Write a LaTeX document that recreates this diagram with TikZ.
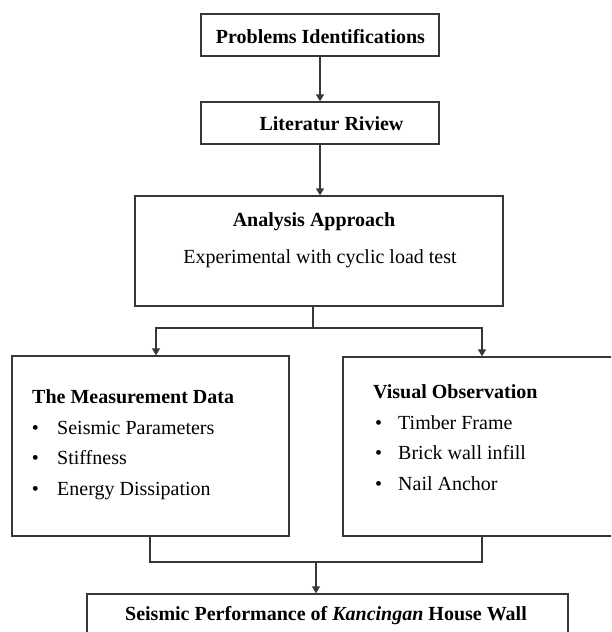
\documentclass[tikz,border=0pt]{standalone}
\usepackage{fontspec}
\setmainfont{Liberation Serif}
\usetikzlibrary{arrows.meta}
\definecolor{linec}{RGB}{55,55,55}
\begin{document}
\begin{tikzpicture}[x=1pt,y=-1pt,
  box/.style={draw=linec, line width=1.4pt, inner sep=0pt},
  ln/.style={draw=linec, line width=1.4pt},
  arr/.style={ln, -{Triangle[length=7pt,width=8pt]}},
  txt/.style={inner sep=0pt, font={\fontsize{20}{24}\selectfont}},
  btxt/.style={inner sep=0pt, font={\fontsize{20}{24}\selectfont\bfseries}}]
\useasboundingbox (0,0) rectangle (611,632);
\clip (0,0) rectangle (611,632);
\fill[white] (0,0) rectangle (611,632);

% boxes
\node[box, minimum width=238pt, minimum height=42pt] (p1) at (320,35) {};
\node[box, minimum width=238pt, minimum height=42pt] (p2) at (320,123) {};
\node[box, minimum width=368pt, minimum height=110pt] (p3) at (319,251) {};
\node[box, minimum width=277pt, minimum height=180pt] (p4) at (150.5,446) {};
\node[box, minimum width=278pt, minimum height=179pt] (p5) at (482,446.5) {};
\node[box, minimum width=481pt, minimum height=56pt] (p6) at (327.5,622) {};

% texts
\node[btxt, anchor=base] (t1) at (320.5,43) {Problems Identifications};
\node[btxt, anchor=base] (t2) at (331.5,130) {Literatur Riview};
\node[btxt, anchor=base] (t3) at (314,226) {Analysis Approach};
\node[txt, anchor=base] (t4) at (320,263) {Experimental with cyclic load test};

\node[btxt, anchor=base west] (l0) at (32,403) {The Measurement Data};
\node[txt, anchor=base] (lb1) at (35.5,434) {•};
\node[txt, anchor=base west] (l1) at (57,434) {Seismic Parameters};
\node[txt, anchor=base] (lb2) at (35.5,464) {•};
\node[txt, anchor=base west] (l2) at (57,464) {Stiffness};
\node[txt, anchor=base] (lb3) at (35.5,495) {•};
\node[txt, anchor=base west] (l3) at (57,495) {Energy Dissipation};

\node[btxt, anchor=base west] (r0) at (373,398) {Visual Observation};
\node[txt, anchor=base] (rb1) at (378.5,429) {•};
\node[txt, anchor=base west] (r1) at (398,429) {Timber Frame};
\node[txt, anchor=base] (rb2) at (378.5,459) {•};
\node[txt, anchor=base west] (r2) at (398,459) {Brick wall infill};
\node[txt, anchor=base] (rb3) at (378.5,490) {•};
\node[txt, anchor=base west] (r3) at (398,490) {Nail Anchor};

\node[btxt, anchor=base] (t6) at (326,620) {Seismic Performance of \textit{Kancingan} House Wall};

% connectors
\draw[arr] (p1.south) -- (p2.north);
\draw[arr] (p2.south) -- (p2.south |- p3.north);
\coordinate (j1) at (313,328);
\coordinate (jl) at (156,328);
\coordinate (jr) at (482,328);
\draw[ln] (p3.south -| j1) -- (j1);
\draw[ln, line cap=rect] (jl) -- (jr);
\draw[arr] (jl) -- (jl |- p4.north);
\draw[arr] (jr) -- (jr |- p5.north);
\coordinate (kl) at (150,562);
\coordinate (kr) at (482,562);
\coordinate (km) at (316,562);
\draw[ln, line join=miter] (p4.south -| kl) -- (kl) -- (kr) -- (p5.south -| kr);
\draw[arr] (km) -- (km |- p6.north);
\end{tikzpicture}
\end{document}
